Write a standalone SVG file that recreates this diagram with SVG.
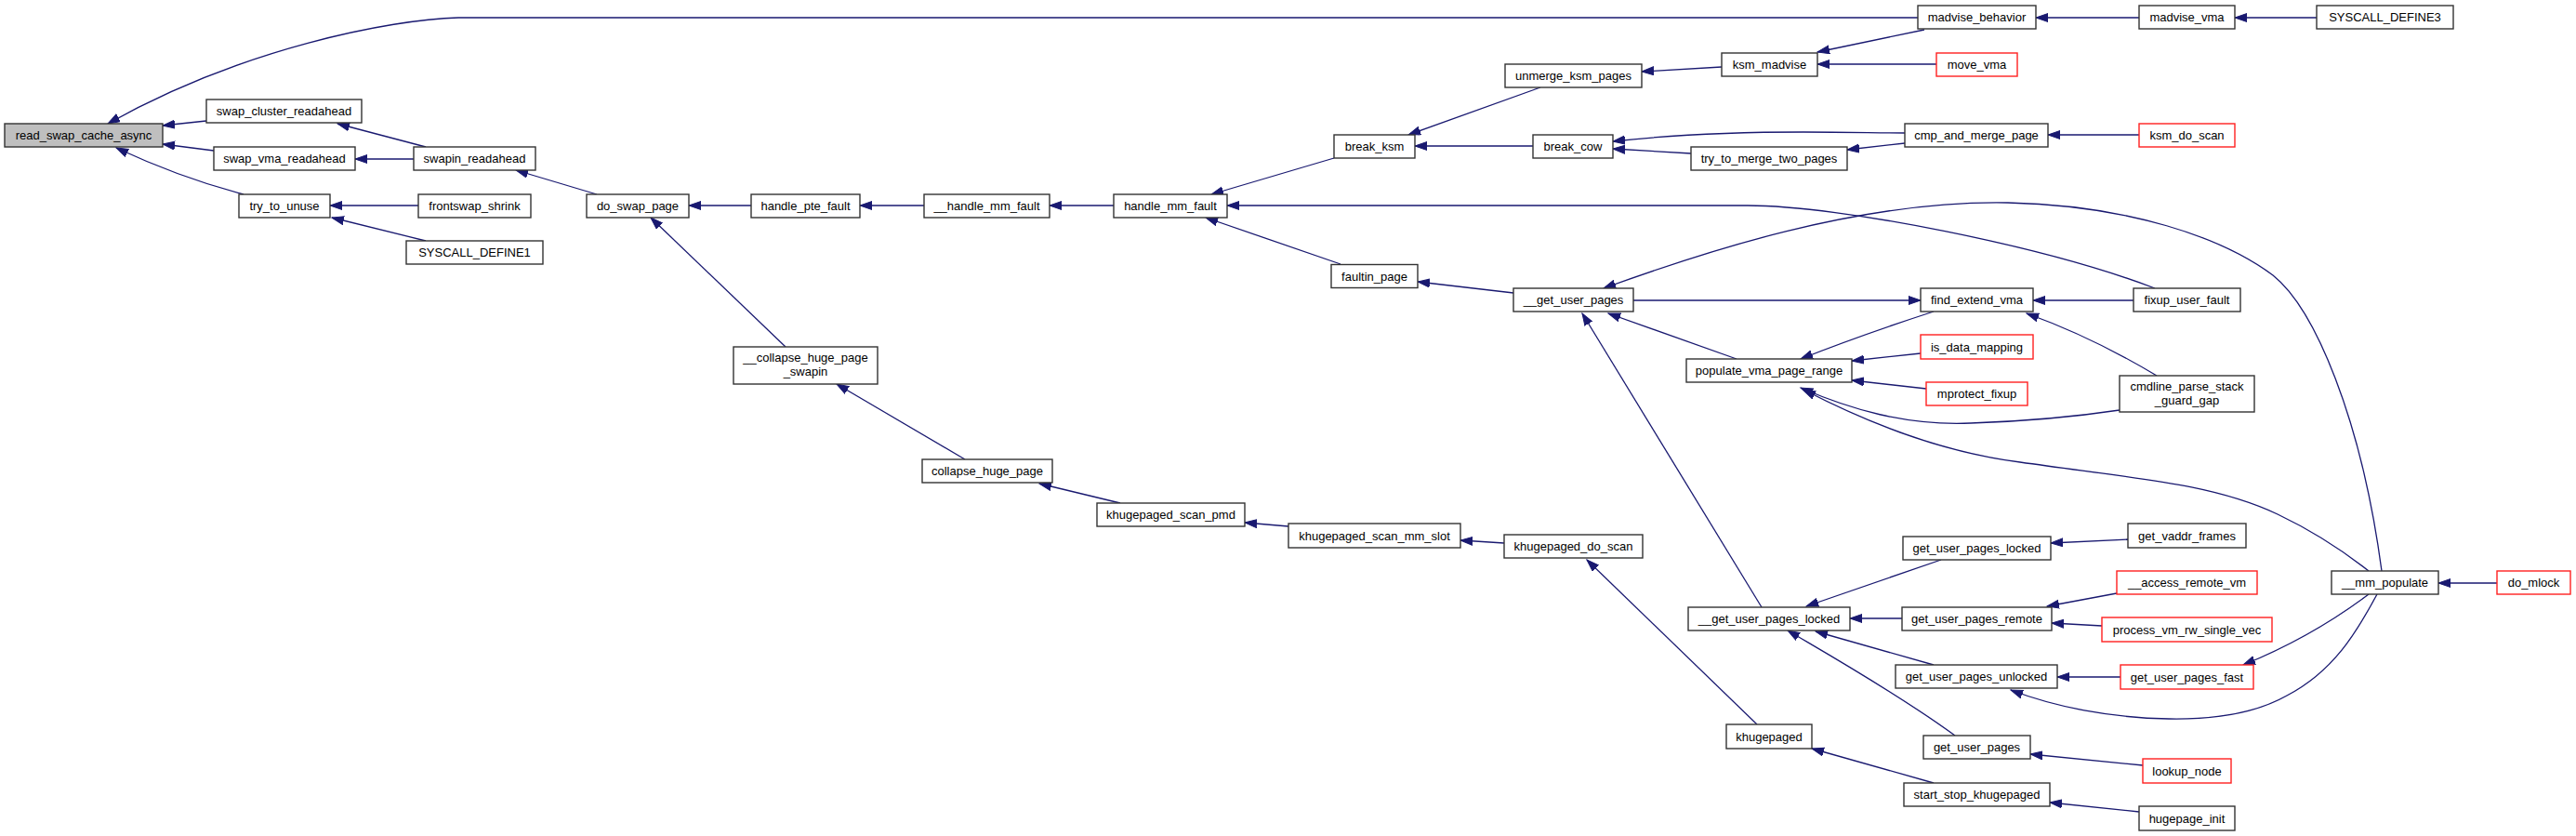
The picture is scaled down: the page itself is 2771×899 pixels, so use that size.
<svg xmlns="http://www.w3.org/2000/svg" width="2771" height="899" viewBox="0 0 2771 899">
<style>
.n rect{fill:#fff;stroke:#333;stroke-width:1.4}
.n.root rect{fill:#bfbfbf}
.n.red rect{stroke:#ff2020}
.n text{font-family:"Liberation Sans",Arial,Helvetica,sans-serif;font-size:13px;text-anchor:middle;fill:#000}
#edges path{fill:none;stroke:#191970;stroke-width:1.3;marker-start:url(#ah)}
</style>
<defs>
<marker id="ah" markerUnits="userSpaceOnUse" markerWidth="15" markerHeight="11" refX="13" refY="5" orient="auto-start-reverse">
<path d="M0,0.5 L13,5 L0,9.5 z" fill="#191970" stroke="#191970" stroke-width="1"/>
</marker>
</defs>
<rect width="2771" height="899" fill="#fff"/>
<g id="edges">
<path d="M116,133 C260,52 420,21 493,19 L2063,19"/>
<path d="M175,135 L222,130"/>
<path d="M175,155 L230,162"/>
<path d="M125,159 C170,180 220,198 262,209"/>
<path d="M363,133 L458,158"/>
<path d="M382,171 L445,171"/>
<path d="M355,221 L450,221"/>
<path d="M357,234 L458,259"/>
<path d="M555,183 L642,209"/>
<path d="M741,221 L808,221"/>
<path d="M700,234 L845,373"/>
<path d="M925,221 L994,221"/>
<path d="M1129,221 L1198,221"/>
<path d="M1303,209 L1435,170"/>
<path d="M1320,221 L1880,221 C1980,221 2200,265 2318,310"/>
<path d="M1297,234 L1442,284"/>
<path d="M1515,145 L1657,94"/>
<path d="M1522,157 L1649,157"/>
<path d="M1766,77 L1852,72"/>
<path d="M1735,152 C1790,146 1850,142 1940,142 C1990,142 2020,143 2049,143"/>
<path d="M1735,160 L1819,165"/>
<path d="M1987,161 L2049,154"/>
<path d="M1525,303 L1628,315"/>
<path d="M2066,323 L1757,323"/>
<path d="M1730,337 L1868,386"/>
<path d="M1702,337 L1895,653"/>
<path d="M1725,310 C1830,272 2000,215 2160,218 C2290,221 2390,255 2445,296 C2490,332 2540,450 2562,614"/>
<path d="M1955,56 L2070,32"/>
<path d="M1955,69 L2083,69"/>
<path d="M2190,19 L2301,19"/>
<path d="M2404,19 L2492,19"/>
<path d="M2203,145 L2301,145"/>
<path d="M2187,323 L2295,323"/>
<path d="M2180,337 C2230,355 2280,380 2320,404"/>
<path d="M1937,386 C1990,365 2040,348 2080,335"/>
<path d="M1992,388 L2066,380"/>
<path d="M1992,409 L2072,418"/>
<path d="M1937,417 C1990,440 2050,458 2120,455 C2180,453 2240,447 2280,441"/>
<path d="M1940,419 C2000,450 2080,485 2173,497 C2300,515 2380,520 2450,553 C2490,572 2520,592 2548,614"/>
<path d="M1943,652 L2088,602"/>
<path d="M1990,665 L2046,665"/>
<path d="M1953,679 L2080,715"/>
<path d="M1923,678 C1960,700 2040,745 2103,791"/>
<path d="M2206,584 L2289,580"/>
<path d="M2202,652 L2277,638"/>
<path d="M2207,670 L2261,673"/>
<path d="M2213,728 L2281,728"/>
<path d="M2163,742 C2210,760 2270,772 2333,773 C2390,774 2430,765 2460,748 C2510,722 2535,680 2557,639"/>
<path d="M2413,715 C2450,700 2500,675 2548,639"/>
<path d="M2184,811 L2305,823"/>
<path d="M1949,805 L2080,842"/>
<path d="M2205,863 L2301,873"/>
<path d="M2623,627 L2686,627"/>
<path d="M1707,602 L1890,779"/>
<path d="M1118,520 L1205,541"/>
<path d="M1339,562 L1386,566"/>
<path d="M1571,581 L1618,584"/>
<path d="M900,413 L1038,494"/>
</g>
<g id="n1" class="n root"><rect x="5" y="133" width="170" height="25"/><text x="90" y="150">read_swap_cache_async</text></g>
<g id="n2" class="n"><rect x="222" y="107" width="167" height="25"/><text x="305.5" y="124">swap_cluster_readahead</text></g>
<g id="n3" class="n"><rect x="230" y="158" width="152" height="25"/><text x="306" y="175">swap_vma_readahead</text></g>
<g id="n4" class="n"><rect x="257" y="209" width="98" height="25"/><text x="306" y="226">try_to_unuse</text></g>
<g id="n5" class="n"><rect x="445" y="158" width="131" height="25"/><text x="510.5" y="175">swapin_readahead</text></g>
<g id="n6" class="n"><rect x="450" y="209" width="121" height="25"/><text x="510.5" y="226">frontswap_shrink</text></g>
<g id="n7" class="n"><rect x="437" y="259" width="147" height="25"/><text x="510.5" y="276">SYSCALL_DEFINE1</text></g>
<g id="n8" class="n"><rect x="631" y="209" width="110" height="25"/><text x="686" y="226">do_swap_page</text></g>
<g id="n9" class="n"><rect x="808" y="209" width="117" height="25"/><text x="866.5" y="226">handle_pte_fault</text></g>
<g id="n10" class="n"><rect x="789" y="373" width="155" height="40"/><text x="866.5" y="389">__collapse_huge_page</text><text x="866.5" y="403.5">_swapin</text></g>
<g id="n11" class="n"><rect x="994" y="209" width="135" height="25"/><text x="1061.5" y="226">__handle_mm_fault</text></g>
<g id="n12" class="n"><rect x="1198" y="209" width="122" height="25"/><text x="1259" y="226">handle_mm_fault</text></g>
<g id="n13" class="n"><rect x="1619" y="69" width="147" height="25"/><text x="1692.5" y="86">unmerge_ksm_pages</text></g>
<g id="n14" class="n"><rect x="1435" y="145" width="87" height="25"/><text x="1478.5" y="162">break_ksm</text></g>
<g id="n15" class="n"><rect x="1649" y="145" width="86" height="25"/><text x="1692" y="162">break_cow</text></g>
<g id="n16" class="n"><rect x="1819" y="158" width="168" height="25"/><text x="1903" y="175">try_to_merge_two_pages</text></g>
<g id="n17" class="n"><rect x="1432" y="284.5" width="93" height="25"/><text x="1478.5" y="301.5">faultin_page</text></g>
<g id="n18" class="n"><rect x="1628" y="310" width="129" height="25"/><text x="1692.5" y="327">__get_user_pages</text></g>
<g id="n19" class="n"><rect x="1814" y="386" width="178" height="25"/><text x="1903" y="403">populate_vma_page_range</text></g>
<g id="n20" class="n"><rect x="2063" y="6" width="127" height="25"/><text x="2126.5" y="23">madvise_behavior</text></g>
<g id="n21" class="n"><rect x="1852" y="57" width="103" height="25"/><text x="1903.5" y="74">ksm_madvise</text></g>
<g id="n22" class="n red"><rect x="2083" y="57" width="87" height="25"/><text x="2126.5" y="74">move_vma</text></g>
<g id="n23" class="n"><rect x="2049" y="133" width="154" height="25"/><text x="2126" y="150">cmp_and_merge_page</text></g>
<g id="n24" class="n"><rect x="2066" y="310" width="121" height="25"/><text x="2126.5" y="327">find_extend_vma</text></g>
<g id="n25" class="n"><rect x="2295" y="310" width="115" height="25"/><text x="2352.5" y="327">fixup_user_fault</text></g>
<g id="n26" class="n red"><rect x="2066" y="360" width="121" height="26"/><text x="2126.5" y="377.5">is_data_mapping</text></g>
<g id="n27" class="n"><rect x="2301" y="6" width="103" height="25"/><text x="2352.5" y="23">madvise_vma</text></g>
<g id="n28" class="n"><rect x="2492" y="6" width="147" height="25"/><text x="2565.5" y="23">SYSCALL_DEFINE3</text></g>
<g id="n29" class="n red"><rect x="2301" y="133" width="103" height="25"/><text x="2352.5" y="150">ksm_do_scan</text></g>
<g id="n30" class="n red"><rect x="2072" y="411" width="109" height="25"/><text x="2126.5" y="428">mprotect_fixup</text></g>
<g id="n31" class="n"><rect x="2280" y="404" width="145" height="39"/><text x="2352.5" y="420">cmdline_parse_stack</text><text x="2352.5" y="435">_guard_gap</text></g>
<g id="n32" class="n"><rect x="1816" y="653" width="174" height="25"/><text x="1903" y="670">__get_user_pages_locked</text></g>
<g id="n33" class="n"><rect x="2047" y="577" width="159" height="25"/><text x="2126.5" y="594">get_user_pages_locked</text></g>
<g id="n34" class="n"><rect x="2046" y="653" width="161" height="25"/><text x="2126.5" y="670">get_user_pages_remote</text></g>
<g id="n35" class="n"><rect x="2039" y="715" width="174" height="25"/><text x="2126" y="732">get_user_pages_unlocked</text></g>
<g id="n36" class="n"><rect x="2069" y="791" width="115" height="25"/><text x="2126.5" y="808">get_user_pages</text></g>
<g id="n37" class="n"><rect x="1857" y="779" width="92" height="26"/><text x="1903" y="796.5">khugepaged</text></g>
<g id="n38" class="n"><rect x="2048" y="842" width="157" height="25"/><text x="2126.5" y="859">start_stop_khugepaged</text></g>
<g id="n39" class="n"><rect x="2289" y="563" width="127" height="26"/><text x="2352.5" y="580.5">get_vaddr_frames</text></g>
<g id="n40" class="n red"><rect x="2277" y="614" width="151" height="25"/><text x="2352.5" y="631">__access_remote_vm</text></g>
<g id="n41" class="n red"><rect x="2261" y="664" width="183" height="26"/><text x="2352.5" y="681.5">process_vm_rw_single_vec</text></g>
<g id="n42" class="n red"><rect x="2281" y="715" width="143" height="26"/><text x="2352.5" y="732.5">get_user_pages_fast</text></g>
<g id="n43" class="n red"><rect x="2305" y="816" width="95" height="26"/><text x="2352.5" y="833.5">lookup_node</text></g>
<g id="n44" class="n"><rect x="2301" y="867" width="103" height="26"/><text x="2352.5" y="884.5">hugepage_init</text></g>
<g id="n45" class="n"><rect x="2508" y="614" width="115" height="25"/><text x="2565.5" y="631">__mm_populate</text></g>
<g id="n46" class="n red"><rect x="2686" y="614" width="79" height="25"/><text x="2725.5" y="631">do_mlock</text></g>
<g id="n47" class="n"><rect x="992" y="494" width="140" height="25"/><text x="1062" y="511">collapse_huge_page</text></g>
<g id="n48" class="n"><rect x="1180" y="541" width="159" height="25"/><text x="1259.5" y="558">khugepaged_scan_pmd</text></g>
<g id="n49" class="n"><rect x="1386" y="563" width="185" height="26"/><text x="1478.5" y="580.5">khugepaged_scan_mm_slot</text></g>
<g id="n50" class="n"><rect x="1618" y="575" width="149" height="25"/><text x="1692.5" y="592">khugepaged_do_scan</text></g>
</svg>
